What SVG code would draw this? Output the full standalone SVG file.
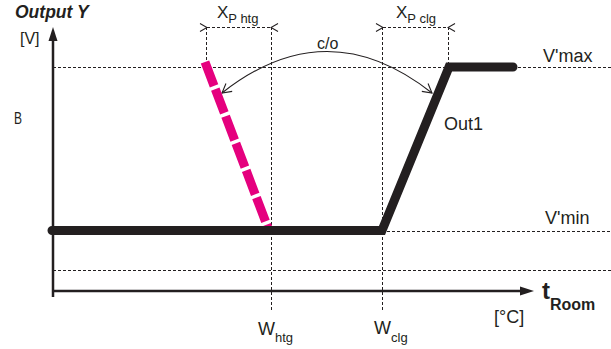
<svg xmlns="http://www.w3.org/2000/svg" width="611" height="349" viewBox="0 0 611 349">
<style>
text{font-family:"Liberation Sans",Arial,sans-serif;fill:#231f20}
.dash{stroke:#231f20;stroke-width:1;stroke-dasharray:3 2;fill:none}
.axis{stroke:#231f20;stroke-width:2.5;fill:none}
.thin{stroke:#231f20;stroke-width:1.1;fill:none}
.lbl{font-size:18px}
.sub{font-size:13px}
</style>
<defs>
<marker id="chev" viewBox="0 0 10 10" refX="1" refY="5" markerWidth="10" markerHeight="10" markerUnits="userSpaceOnUse" orient="auto-start-reverse">
<path d="M8,1 L1,5 L8,9" fill="none" stroke="#231f20" stroke-width="1.1"/>
</marker>
<marker id="oarr" viewBox="0 0 12 12" refX="11" refY="6" markerWidth="12" markerHeight="12" markerUnits="userSpaceOnUse" orient="auto-start-reverse">
<path d="M2,1 L11,6 L2,11" fill="none" stroke="#231f20" stroke-width="1.1"/>
</marker>
</defs>
<rect width="611" height="349" fill="#fff"/>
<g id="grid">
<line class="dash" x1="53" y1="67.5" x2="611" y2="67.5"/>
<line class="dash" x1="382" y1="231.5" x2="611" y2="231.5"/>
<line class="dash" x1="53" y1="270.5" x2="611" y2="270.5"/>
<line class="dash" x1="206.5" y1="27" x2="206.5" y2="63"/>
<line class="dash" x1="271.5" y1="27" x2="271.5" y2="312"/>
<line class="dash" x1="382.5" y1="27" x2="382.5" y2="312"/>
<line class="dash" x1="448.5" y1="27" x2="448.5" y2="67"/>
</g>
<g id="axes">
<line class="axis" x1="53" y1="38" x2="53" y2="297"/>
<path d="M53,27 L57.5,41 L48.5,41 Z" fill="#231f20"/>
<line class="axis" x1="52" y1="291" x2="522" y2="291"/>
<path d="M534,291 L520,286.5 L520,295.5 Z" fill="#231f20"/>
</g>
<g id="connectors">
<line class="dash" x1="207" y1="27.5" x2="271" y2="27.5" marker-start="url(#chev)" marker-end="url(#chev)"/>
<line class="dash" x1="383" y1="27.5" x2="448" y2="27.5" marker-start="url(#chev)" marker-end="url(#chev)"/>
<path class="thin" d="M222,93 Q327,10 432,93" marker-start="url(#oarr)" marker-end="url(#oarr)"/>
</g>
<g id="out-htg">
<line x1="205" y1="62" x2="268" y2="228" stroke="#e5007e" stroke-width="9" stroke-dasharray="25.5 3.5"/>
</g>
<g id="out1">
<path d="M52,230.5 L382,230.5 L449,67 L513,67" fill="none" stroke="#231f20" stroke-width="9" stroke-linecap="round" stroke-linejoin="miter"/>
</g>
<g id="labels">
<text x="15" y="18" font-size="17.5" font-weight="bold" font-style="italic">Output Y</text>
<text x="20" y="44" font-size="16">[V]</text>
<text x="14" y="124" style="font-size:16.5px" textLength="8" lengthAdjust="spacingAndGlyphs">B</text>
<text x="217" y="18" font-size="17">X<tspan class="sub" dy="5">P htg</tspan></text>
<text x="396" y="18" font-size="17">X<tspan class="sub" dy="5">P clg</tspan></text>
<text x="317" y="49" font-size="16">c/o</text>
<text x="543" y="62" class="lbl">V'max</text>
<text x="444" y="130" class="lbl">Out1</text>
<text x="545" y="224" class="lbl">V'min</text>
<text x="258" y="335" class="lbl">W<tspan class="sub" dy="7">htg</tspan></text>
<text x="374" y="334" class="lbl">W<tspan class="sub" dy="8">clg</tspan></text>
<text x="542" y="299" font-size="24" font-weight="bold">t<tspan font-size="16" dy="11">Room</tspan></text>
<text x="494" y="323" class="lbl">[°C]</text>
</g>
</svg>
